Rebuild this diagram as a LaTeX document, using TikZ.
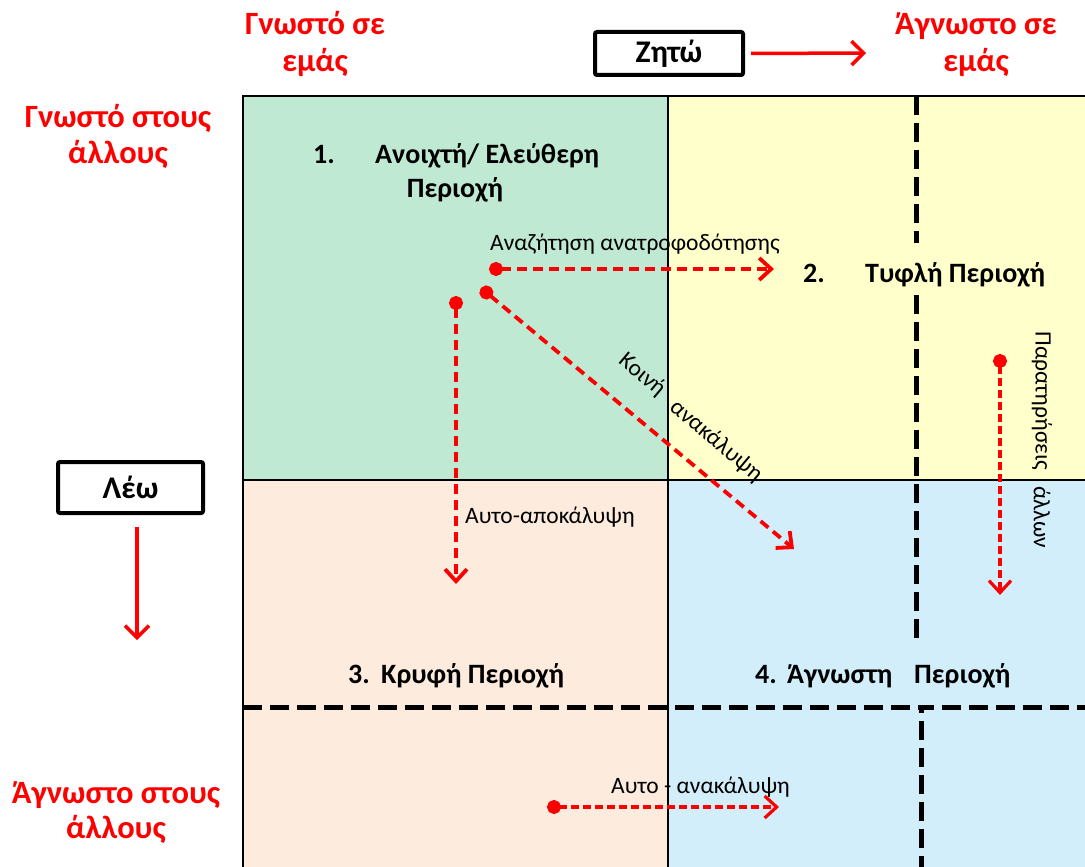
\documentclass[tikz,border=0pt]{standalone}
\usepackage{fontspec}
\setmainfont{Carlito}
\usetikzlibrary{arrows.meta,calc}
\definecolor{qgreen}{RGB}{191,233,211}
\definecolor{qyellow}{RGB}{255,255,204}
\definecolor{qpeach}{RGB}{253,235,221}
\definecolor{qblue}{RGB}{209,238,250}
\definecolor{hred}{RGB}{255,0,0}
\definecolor{dred}{RGB}{250,0,0}
\tikzset{
 gridline/.style={line width=2.5pt, black},
 bdash/.style={line width=5pt, black, dash pattern=on 19pt off 8pt},
 redarr/.style={draw=dred, line width=3.8pt, dash pattern=on 10pt off 6pt,
   arrows={Circle[length=14pt,width=14pt]-Straight Barb[length=12pt,width=22pt]}},
 redarrfine/.style={redarr, line width=3.2pt, dash pattern=on 8pt off 4pt},
 heading/.style={text=hred, font=\fontsize{32.5}{38}\selectfont\bfseries, anchor=base, inner sep=0pt},
 qlabel/.style={font=\fontsize{28}{34}\selectfont\bfseries, inner sep=0pt},
 smalltxt/.style={font=\fontsize{23.5}{28}\selectfont, inner sep=0pt},
 boxlabel/.style={draw, line width=4pt, rounded corners=2pt, font=\fontsize{31.5}{36}\selectfont\bfseries, fill=white},
 redsolid/.style={draw=hred, line width=3.5pt, arrows={-Straight Barb[length=12pt,width=24pt]}},
}
\begin{document}
\begin{tikzpicture}[x=1pt,y=-1pt]
\useasboundingbox (0,0) rectangle (1085,867);
\clip (0,0) rectangle (1085,867);
\fill[white] (0,0) rectangle (1085,867);
% quadrants
\fill[qgreen] (243,96) rectangle (668,480);
\fill[qyellow] (668,96) rectangle (1095,480);
\fill[qpeach] (243,480) rectangle (668,875);
\fill[qblue] (668,480) rectangle (1095,875);
\draw[gridline] (243,875) -- (243,96) -- (1095,96);
\draw[gridline] (668,96) -- (668,875);
\draw[gridline] (243,480) -- (1095,480);
% black dashed lines
\draw[bdash] (243,707) -- (921,707);
\draw[bdash] (921,875) -- (921,707) -- (1095,707);
\draw[bdash] (916,96) -- (916,243);
\draw[bdash] (916,295) -- (916,641);

% headings
\node[heading] (h1a) at (315,35) {Γνωστό σε};
\node[heading] (h1b) at (315,72) {εμάς};
\node[heading] (h2a) at (976,35) {Άγνωστο σε};
\node[heading] (h2b) at (976,72) {εμάς};
\node[heading] (h3a) at (118,127) {Γνωστό στους};
\node[heading] (h3b) at (118,163) {άλλους};
\node[heading] (h4a) at (116,803) {Άγνωστο στους};
\node[heading] (h4b) at (116,838) {άλλους};

% boxes
\node[boxlabel, minimum width=148pt, minimum height=43pt] (zito) at (669,53.5) {Ζητώ};
\node[boxlabel, minimum width=145pt, minimum height=51pt] (leo) at (130.5,487.5) {Λέω};
\coordinate (zitoEnd) at (866,53);
\draw[redsolid] ($(zito.east)+(6,0)$) -- (zitoEnd);
\coordinate (leoEnd) at (137,640);
\draw[redsolid] ($(leo.south)+(6.5,12)$) -- (leoEnd);

% quadrant labels
\node[qlabel, anchor=base west] (q1n) at (313,163) {1.};
\node[qlabel, anchor=base west] (q1a) at (375,163) {Ανοιχτή/ Ελεύθερη};
\node[qlabel, anchor=base] (q1b) at (455,197) {Περιοχή};
\node[qlabel, anchor=base west] (q2n) at (803,282) {2.};
\node[qlabel, anchor=base west] (q2a) at (865,282) {Τυφλή Περιοχή};
\node[qlabel, anchor=base west] (q3n) at (348,683) {3.};
\node[qlabel, anchor=base west] (q3a) at (381,683) {Κρυφή Περιοχή};
\node[qlabel, anchor=base west] (q4n) at (755,683) {4.};
\node[qlabel, anchor=base west] (q4a) at (787,683) {Άγνωστη};
\node[qlabel, anchor=base west] (q4b) at (914,683) {Περιοχή};

% red dashed arrows
\coordinate (fbS) at (489,269); \coordinate (fbE) at (774,269);
\coordinate (kaS) at (481,288); \coordinate (kaE) at (794,549);
\coordinate (apS) at (456,296); \coordinate (apE) at (456,584);
\coordinate (paS) at (1000,354); \coordinate (paE) at (1000,595);
\coordinate (auS) at (547,807); \coordinate (auE) at (779,807);
\draw[redarr] (fbS) -- (fbE);
\draw[redarr] (kaS) -- (kaE);
\draw[redarr] (apS) -- (apE);
\draw[redarrfine] (paS) -- (paE);
\draw[redarrfine] (auS) -- (auE);

% arrow labels
\node[smalltxt, anchor=base west] (fbL) at (490,250) {Αναζήτηση ανατροφοδότησης};
\node[smalltxt, rotate=-40] (kaL1) at (642,375) {Κοινή};
\node[smalltxt, rotate=-40] (kaL2) at (716,441) {ανακάλυψη};
\node[smalltxt, rotate=-90] (paL1) at (1042,401) {Παρατηρήσεις};
\node[smalltxt, rotate=-90] (paL2) at (1042,517) {άλλων};
\node[smalltxt, anchor=base west] (apL) at (465,523) {Αυτο-αποκάλυψη};
\node[smalltxt, anchor=base west] (auL) at (611,793) {Αυτο - ανακάλυψη};
\end{tikzpicture}
\end{document}
